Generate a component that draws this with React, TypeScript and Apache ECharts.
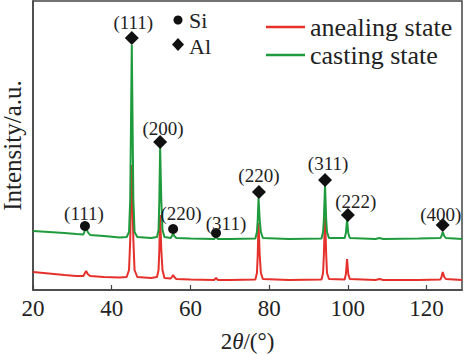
import React, { useEffect, useRef } from "react";
import * as echarts from "echarts";

// 2θ positions (degrees)
const twoTheta = [
  20, 24, 28, 31, 32.8, 33.2, 33.5, 33.9, 34.5, 38, 42, 43.8, 44.4, 44.7, 45.1, 45.5, 45.8, 46.5,
  50, 51.5, 51.9, 52.1, 52.3, 52.6, 52.9, 53.4, 55, 55.3, 55.6, 55.9, 56.4, 60, 66, 66.5, 67, 70,
  76.5, 76.9, 77.1, 77.3, 77.6, 77.9, 78.4, 85, 93.3, 93.7, 93.9, 94.2, 94.5, 94.7, 95.2,
  99.2, 99.5, 99.8, 100.1, 100.5, 107, 108, 109, 118, 123.5, 123.8, 124.1, 124.5, 124.9, 129,
];

// casting state intensity (a.u.)
const castingIntensity = [
  59, 58, 57, 56, 55.5, 60, 63, 58, 55, 54, 52.5, 53, 58, 90, 245, 90, 58, 53,
  52, 53, 60, 90, 142, 90, 60, 53, 52, 54, 57, 54, 52, 51.5, 51, 53, 51, 51,
  51.5, 58, 70, 92, 70, 58, 52, 51, 51.5, 58, 70, 105, 70, 58, 52,
  52, 57, 70, 57, 52, 51, 52, 51, 51.5, 52, 54, 58, 54, 52, 51,
];

// anealing state intensity (a.u.)
const annealingIntensity = [
  18, 16.5, 15, 14, 14, 17, 19, 16, 14, 13, 12.5, 13, 20, 50, 125, 50, 20, 13,
  12, 13, 20, 40, 75, 40, 20, 12, 11.5, 13, 15, 13, 11, 10.5, 10, 12, 10, 10,
  10.5, 17, 35, 67, 35, 17, 11, 10, 10.5, 17, 35, 73, 35, 17, 11,
  10.5, 16, 31, 16, 11, 10, 11, 10, 10, 10.5, 13, 18, 13, 11, 10,
];

// Al peak markers
const alPeakX = [45.1, 52.3, 77.4, 94.2, 100.0, 124.1];
const alPeakY = [252, 148, 98, 110, 75, 65];
const alPeakLabels = ["(111)", "(200)", "(220)", "(311)", "(222)", "(400)"];

// Si peak markers
const siPeakX = [33.2, 55.6, 66.5];
const siPeakY = [64, 61, 57];
const siPeakLabels = ["(111)", "(220)", "(311)"];

const xTicks = { min: 20, max: 129, interval: 20 };

const FONT = "'Liberation Serif', 'Times New Roman', serif";
const TXT = "#222";

// label nudges (style, not data)
const alNudge: [number, number][] = [[1.5, 2.5], [3, 4.5], [0, 2], [3, 1.5], [8, 4.5], [-2, 7.5]];
const siNudge: [number, number][] = [[-1, 3.5], [8, 0.5], [10, 6.5]];

export default function App() {
  const ref = useRef<HTMLDivElement>(null);
  useEffect(() => {
    if (!ref.current) return;
    const chart = echarts.init(ref.current, null, { renderer: "svg" });
    const castingData = twoTheta.map((x, i) => [x, castingIntensity[i]]);
    const annealData = twoTheta.map((x, i) => [x, annealingIntensity[i]]);
    const alData = alPeakX.map((x, i) => ({
      value: [x, alPeakY[i]],
      name: alPeakLabels[i],
      label: { offset: alNudge[i] },
    }));
    const siData = siPeakX.map((x, i) => ({
      value: [x, siPeakY[i]],
      name: siPeakLabels[i],
      label: { offset: siNudge[i] },
    }));
    const peakLabel = {
      show: true,
      position: "top" as const,
      distance: 2,
      formatter: (p: any) => p.name,
      fontFamily: FONT,
      fontSize: 19,
      color: TXT,
    };
    chart.setOption({
      animation: false,
      backgroundColor: "#fff",
      textStyle: { fontFamily: FONT },
      grid: {
        left: 33,
        right: 5,
        top: 1,
        bottom: 64,
        containLabel: false,
        outerBoundsMode: "none",
        show: true,
        borderColor: "#444",
        borderWidth: 1.5,
        backgroundColor: "transparent",
      },
      legend: {
        orient: "vertical",
        left: 261,
        top: 9,
        icon: "rect",
        itemWidth: 39,
        itemHeight: 2.5,
        itemGap: 2,
        itemTextGap: 8,
        data: ["anealing state", "casting state"],
        textStyle: { fontFamily: FONT, fontSize: 26, color: TXT, lineHeight: 26 },
      },
      xAxis: {
        type: "value",
        min: xTicks.min,
        max: xTicks.max,
        interval: xTicks.interval,
        name: "2{i|θ}/(°)",
        nameLocation: "middle",
        nameGap: 40,
        nameTextStyle: {
          fontFamily: FONT,
          fontSize: 23,
          color: TXT,
          rich: { i: { fontFamily: FONT, fontSize: 23, fontStyle: "italic", color: TXT } },
        },
        axisLine: { show: true, lineStyle: { color: "#444", width: 1.5 } },
        axisTick: { show: true, inside: true, length: 5, lineStyle: { color: "#444", width: 1.2 } },
        axisLabel: { fontFamily: FONT, fontSize: 23, color: TXT, margin: 7, showMaxLabel: false },
        splitLine: { show: false },
      },
      yAxis: {
        type: "value",
        min: 0,
        max: 289,
        name: "Intensity/a.u.",
        nameLocation: "middle",
        nameGap: 11,
        nameTextStyle: { fontFamily: FONT, fontSize: 25, lineHeight: 20, color: TXT },
        axisLine: { show: true, lineStyle: { color: "#444", width: 1.5 } },
        axisTick: { show: false },
        axisLabel: { show: false },
        splitLine: { show: false },
      },
      series: [
        {
          name: "anealing state",
          type: "line",
          data: annealData,
          symbol: "none",
          lineStyle: { color: "#e5302b", width: 2 },
          itemStyle: { color: "#e5302b" },
          z: 2,
        },
        {
          name: "casting state",
          type: "line",
          data: castingData,
          symbol: "none",
          lineStyle: { color: "#1e9b3c", width: 2 },
          itemStyle: { color: "#1e9b3c" },
          z: 3,
        },
        {
          name: "Al",
          type: "scatter",
          data: alData,
          symbol: "diamond",
          symbolSize: 14,
          itemStyle: { color: "#111", opacity: 1 },
          label: peakLabel,
          z: 5,
        },
        {
          name: "Si",
          type: "scatter",
          data: siData,
          symbol: "circle",
          symbolSize: 10,
          itemStyle: { color: "#111", opacity: 1 },
          label: peakLabel,
          z: 5,
        },
      ],
      graphic: [
        { type: "circle", shape: { cx: 178, cy: 20, r: 4.5 }, style: { fill: "#111" } },
        {
          type: "polygon",
          shape: { points: [[178, 38], [184, 44.5], [178, 51], [172, 44.5]] },
          style: { fill: "#111" },
        },
        {
          type: "text",
          x: 189,
          y: 20,
          style: { text: "Si", fontFamily: FONT, fontSize: 22, fill: TXT, verticalAlign: "middle" },
        },
        {
          type: "text",
          x: 189,
          y: 46,
          style: { text: "Al", fontFamily: FONT, fontSize: 22, fill: TXT, verticalAlign: "middle" },
        },
      ],
    });
    return () => chart.dispose();
  }, []);
  return <div ref={ref} style={{ width: 467, height: 354, position: "absolute", left: 0, top: 0 }} />;
}
